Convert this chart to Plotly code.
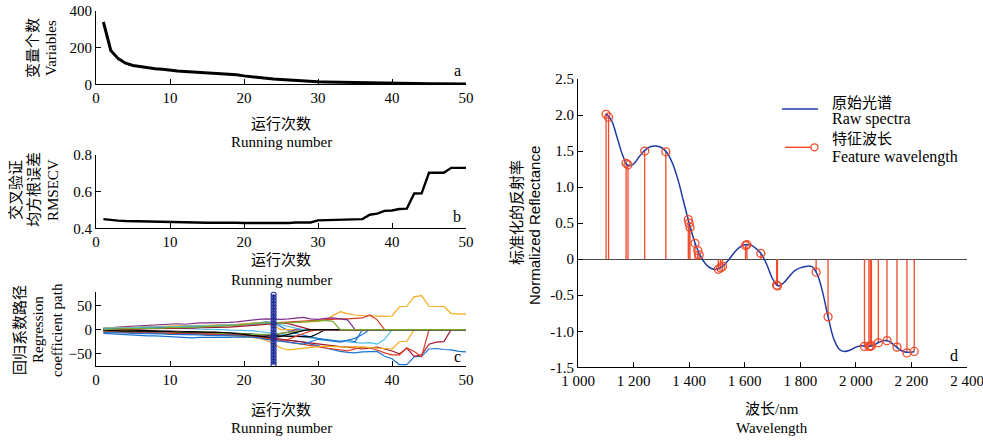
import plotly.graph_objects as go

W, H = 983, 441

# ---------------- data ----------------
runs = list(range(1, 51))

n_variables = [340, 185, 140, 115, 103, 96, 90, 85, 82, 76,
               72, 70, 68, 65, 62, 60, 59, 56, 52, 46,
               41, 37, 33, 29, 26, 23, 20, 18, 16, 14,
               13, 12, 11, 10, 9, 8, 7, 7, 6, 5,
               5, 4, 4, 4, 3, 3, 3, 2, 2, 2]

rmsecv = [0.450, 0.444, 0.442, 0.440, 0.439, 0.438, 0.438, 0.437, 0.436, 0.431,
          0.432, 0.433, 0.431, 0.430, 0.430, 0.430, 0.431, 0.431, 0.430, 0.429,
          0.429, 0.429, 0.428, 0.427, 0.428, 0.429, 0.432, 0.433, 0.432, 0.443,
          0.444, 0.444, 0.444, 0.444, 0.446, 0.450, 0.474, 0.480, 0.495, 0.497,
          0.505, 0.507, 0.590, 0.591, 0.703, 0.703, 0.703, 0.730, 0.730, 0.730]

# regression coefficient paths (one list per variable, runs 1..50)
coef_paths = [
    ("#f6a91a", [3, 3, 4, 4, 5, 5, 6, 6, 6, 7, 7, 7, 8, 8, 8, 9, 9, 10, 10, 11,
                 11, 12, 12, 13, 13, 14, 15, 16, 16, 17, 20, 28, 37, 33, 30, 29, 28, 27, 27, 28,
                 47, 48, 68, 70, 48, 47, 48, 33, 32, 32]),
    ("#e03a1e", [1, 1, 2, 2, 2, 3, 3, 3, 4, 4, 4, 5, 5, 6, 6, 7, 7, 8, 9, 10,
                 11, 12, 13, 14, 15, 16, 17, 18, 18, 19, 20, 21, 22, 22, 23, 24, 30, 20, 0, 0,
                 0, 0, 0, 0, 0, 0, 0, 0, 0, 0]),
    ("#7e2f8e", [2, 4, 5, 6, 7, 8, 8, 9, 10, 11, 12, 11, 13, 14, 14, 14, 15, 15, 16, 18,
                 19, 21, 22, 21, 21, 22, 23, 25, 22, 21, 23, 24, 22, 20, 0, 0, 0, 0, 0, 0,
                 0, 0, 0, 0, 0, 0, 0, 0, 0, 0]),
    ("#1a75d2", [-8, -9, -10, -11, -12, -12, -13, -13, -14, -14, -15, -17, -17, -16, -16, -17, -17, -16, -15, -16,
                 -15, -16, -17, -18, -20, -22, -24, -25, -30, -33, -38, -42, -45, -47, -48, -46, -46, -45, -55, -60,
                 -72, -72, -56, -55, -40, -39, -41, -42, -45, -46]),
    ("#a2142f", [-2, -3, -3, -4, -4, -5, -5, -6, -6, -7, -7, -8, -8, -9, -9, -10, -10, -11, -12, -13,
                 -14, -15, -16, -18, -20, -22, -24, -26, -28, -30, -32, -34, -35, -36, -38, -40, -38, -36, -40, -44,
                 -50, -38, -55, -52, -30, -26, -25, 0, 0, 0]),
    ("#e03a1e", [-1, -1, -2, -2, -3, -3, -4, -4, -4, -5, -5, -6, -6, -7, -7, -8, -8, -9, -10, -12,
                 -14, -16, -18, -20, -22, -26, -28, -30, -32, -35, -38, -40, -42, -44, -40, -36, -38, -42, -48, -52,
                 -52, -38, -45, -56, 0, 0, 0, 0, 0, 0]),
    ("#f6a91a", [-3, -4, -4, -5, -5, -6, -6, -7, -7, -8, -8, -9, -9, -10, -10, -11, -11, -12, -13, -14,
                 -16, -18, -22, -30, -38, -42, -40, -38, -36, -35, -34, -35, -36, -36, -35, -36, -38, -38, -40, -40,
                 -25, -24, 0, 0, 0, 0, 0, 0, 0, 0]),
    ("#4dbeee", [1, 1, 1, 2, 2, 2, 2, 3, 3, 3, 3, 2, 2, 1, 1, 0, 0, -1, -1, -2,
                 -2, -4, -6, -8, -10, -12, -14, -16, -18, -20, -22, -23, -24, -25, -26, -28, -27, -30, -20, 0,
                 0, 0, 0, 0, 0, 0, 0, 0, 0, 0]),
    ("#1a75d2", [2, 2, 3, 3, 3, 4, 4, 4, 5, 5, 5, 6, 6, 7, 7, 8, 8, 9, 10, 11,
                 12, 14, 16, 14, 6, -2, -8, -12, -15, -18, -20, -22, -24, -22, -25, 0, 0, 0, 0, 0,
                 0, 0, 0, 0, 0, 0, 0, 0, 0, 0]),
    ("#000000", [0, -1, -1, -1, -2, -2, -2, -3, -3, -3, -4, -4, -4, -5, -5, -5, -6, -6, -7, -8,
                 -9, -10, -11, -12, -13, -14, -14, -15, -15, -8, 0, 0, 0, 0, 0, 0, 0, 0, 0, 0,
                 0, 0, 0, 0, 0, 0, 0, 0, 0, 0]),
    ("#f6a91a", [4, 4, 5, 5, 5, 6, 6, 6, 7, 7, 7, 8, 8, 8, 9, 9, 10, 10, 11, 12,
                 13, 14, 12, 8, 0, 0, 0, 0, 0, 0, 0, 0, 0, 0, 0, 0, 0, 0, 0, 0,
                 0, 0, 0, 0, 0, 0, 0, 0, 0, 0]),
    ("#7e2f8e", [-4, -4, -5, -5, -6, -6, -6, -7, -7, -7, -8, -8, -9, -9, -9, -10, -10, -11, -11, -12,
                 -12, -13, -14, -12, -8, -5, 0, 0, 0, 0, 0, 0, 0, 0, 0, 0, 0, 0, 0, 0,
                 0, 0, 0, 0, 0, 0, 0, 0, 0, 0]),
    ("#77ac30", [-2, -2, -3, -3, -3, -4, -4, -4, -5, -5, -5, -6, -6, -6, -7, -7, -8, -8, -9, -9,
                 -10, -10, -11, -10, -8, -6, -4, -2, 0, 0, 0, 0, 0, 0, 0, 0, 0, 0, 0, 0,
                 0, 0, 0, 0, 0, 0, 0, 0, 0, 0]),
    ("#4dbeee", [3, 3, 4, 4, 4, 5, 5, 5, 6, 6, 6, 7, 7, 7, 8, 8, 9, 9, 10, 10,
                 11, 12, 12, 13, 10, 6, 3, 0, 0, 0, 0, 0, 0, 0, 0, 0, 0, 0, 0, 0,
                 0, 0, 0, 0, 0, 0, 0, 0, 0, 0]),
    ("#a2142f", [0, 0, 1, 1, 1, 1, 2, 2, 2, 2, 3, 3, 3, 4, 4, 4, 5, 5, 6, 7,
                 8, 9, 10, 12, 14, 12, 8, 4, 0, 0, 0, 0, 0, 0, 0, 0, 0, 0, 0, 0,
                 0, 0, 0, 0, 0, 0, 0, 0, 0, 0]),
    ("#e03a1e", [-5, -5, -6, -6, -7, -7, -7, -8, -8, -8, -9, -9, -10, -10, -10, -11, -11, -12, -12, -13,
                 -14, -15, -18, -22, -24, -20, -14, -8, -3, 0, 0, 0, 0, 0, 0, 0, 0, 0, 0, 0,
                 0, 0, 0, 0, 0, 0, 0, 0, 0, 0]),
    ("#1a75d2", [-6, -6, -7, -7, -8, -8, -8, -9, -9, -10, -10, -10, -11, -11, -12, -12, -12, -13, -13, -14,
                 -15, -17, -20, -22, -24, -26, -28, -30, -25, -20, -22, -24, -26, -22, -18, -10, 0, 0, 0, 0,
                 0, 0, 0, 0, 0, 0, 0, 0, 0, 0]),
    ("#000000", [-1, -2, -2, -3, -3, -3, -4, -4, -4, -4, -5, -5, -5, -6, -6, -6, -6, -7, -8, -10,
                 -12, -14, -15, -16, -14, -10, -6, -2, 0, 0, 0, 0, 0, 0, 0, 0, 0, 0, 0, 0,
                 0, 0, 0, 0, 0, 0, 0, 0, 0, 0]),
    ("#77ac30", [0, 1, 1, 2, 2, 2, 3, 3, 3, 4, 4, 5, 5, 5, 6, 6, 7, 8, 9, 10,
                 12, 14, 15, 15, 14, 14, 15, 16, 17, 18, 19, 17, 0, 0, 0, 0, 0, 0, 0, 0,
                 0, 0, 0, 0, 0, 0, 0, 0, 0, 0]),
]

optimal_run = 24
optimal_marker_y = [-72, -66, -60, -54, -48, -42, -36, -30, -24, -18, -12, -6, 0,
                    6, 12, 18, 24, 30, 36, 42, 48, 54, 60, 66, 72]

wavelength = [1100, 1120, 1140, 1160, 1180, 1200, 1220, 1240, 1260, 1280,
              1300, 1320, 1340, 1360, 1380, 1400, 1420, 1440, 1460, 1480,
              1500, 1520, 1540, 1560, 1580, 1600, 1620, 1640, 1660, 1680,
              1700, 1720, 1740, 1760, 1780, 1800, 1820, 1840, 1860, 1880,
              1900, 1920, 1940, 1960, 1980, 2000, 2020, 2040, 2060, 2080,
              2100, 2120, 2140, 2160, 2180, 2200, 2210]
raw_spectra = [2.02, 1.93, 1.70, 1.45, 1.30, 1.32, 1.42, 1.51, 1.56, 1.57,
               1.55, 1.48, 1.33, 1.10, 0.80, 0.50, 0.24, 0.05, -0.07, -0.13,
               -0.14, -0.10, -0.02, 0.08, 0.16, 0.20, 0.20, 0.15, 0.07, -0.08,
               -0.27, -0.37, -0.33, -0.24, -0.16, -0.12, -0.10, -0.10, -0.20, -0.45,
               -0.80, -1.10, -1.25, -1.28, -1.26, -1.22, -1.20, -1.21, -1.20, -1.16,
               -1.13, -1.14, -1.20, -1.26, -1.29, -1.29, -1.28]

feature_wl = [1101, 1110, 1173, 1180, 1240, 1316, 1397, 1400, 1403, 1421, 1431, 1436,
              1505, 1513, 1520, 1603, 1608, 1658, 1715, 1718, 1857, 1900,
              2031, 2047, 2052, 2056, 2081, 2112, 2148, 2184, 2210]
feature_val = [2.01, 1.97, 1.33, 1.31, 1.50, 1.49, 0.55, 0.50, 0.44, 0.22, 0.12, 0.06,
               -0.14, -0.12, -0.10, 0.19, 0.20, 0.08, -0.36, -0.37, -0.18, -0.80,
               -1.21, -1.21, -1.21, -1.20, -1.16, -1.13, -1.22, -1.30, -1.28]

x_ticks_d = [1000, 1200, 1400, 1600, 1800, 2000, 2200, 2400]
x_ticktext_d = ["1 000", "1 200", "1 400", "1 600", "1 800", "2 000", "2 200", "2 400"]
y_ticks_d = [-1.5, -1.0, -0.5, 0, 0.5, 1.0, 1.5, 2.0, 2.5]
y_ticktext_d = ["-1.5", "-1.0", "-0.5", "0", "0.5", "1.0", "1.5", "2.0", "2.5"]

# ---------------- styling helpers ----------------
SERIF = "Liberation Serif, Times New Roman, Noto Sans CJK SC"
CJK = "Noto Sans CJK SC, Liberation Serif"
SANS = "Liberation Sans, Arial"
RED = "#f24a2a"
SPEC_BLUE = "#1e3aa6"


def px(x):
    return x / W


def py(y):
    return 1 - y / H


fig = go.Figure()

# panel a
fig.add_trace(go.Scatter(x=runs, y=n_variables, mode="lines", xaxis="x", yaxis="y",
                         line=dict(color="black", width=3), showlegend=False))
# panel b
fig.add_trace(go.Scatter(x=runs, y=rmsecv, mode="lines", xaxis="x2", yaxis="y2",
                         line=dict(color="black", width=2.4), showlegend=False))
# panel c
for color, vals in coef_paths:
    fig.add_trace(go.Scatter(x=runs, y=vals, mode="lines", xaxis="x3", yaxis="y3",
                             line=dict(color=color, width=1.2), showlegend=False))
fig.add_trace(go.Scatter(x=[optimal_run] * len(optimal_marker_y), y=optimal_marker_y,
                         mode="lines+markers", xaxis="x3", yaxis="y3",
                         line=dict(color="#1f2f9a", width=1.5),
                         marker=dict(symbol="circle-open", size=5, color="#1f2f9a",
                                     line=dict(width=1.2, color="#1f2f9a")),
                         showlegend=False))

# panel d : stems
stem_x, stem_y = [], []
for w, v in zip(feature_wl, feature_val):
    stem_x += [w, w, None]
    stem_y += [0, v, None]
fig.add_trace(go.Scatter(x=stem_x, y=stem_y, mode="lines", xaxis="x4", yaxis="y4",
                         line=dict(color=RED, width=1.3), showlegend=False))
fig.add_trace(go.Scatter(x=wavelength, y=raw_spectra, mode="lines", xaxis="x4", yaxis="y4",
                         line=dict(color=SPEC_BLUE, width=1.5, shape="spline", smoothing=1.0),
                         showlegend=False))
fig.add_trace(go.Scatter(x=feature_wl, y=feature_val, mode="markers", xaxis="x4", yaxis="y4",
                         marker=dict(symbol="circle-open", size=8, color=RED,
                                     line=dict(width=1.3, color=RED)),
                         showlegend=False))

axis_common = dict(showline=True, linecolor="black", linewidth=1.2, ticks="inside",
                   ticklen=5, tickwidth=1.2, tickcolor="black", showgrid=False,
                   zeroline=False, automargin=False, ticklabeloverflow="allow",
                   tickfont=dict(family=SERIF, size=15, color="black"))

xdom_left = [px(96), px(466)]
fig.update_layout(
    width=W, height=H, margin=dict(l=0, r=0, t=0, b=0, pad=0, autoexpand=False),
    paper_bgcolor="white", plot_bgcolor="white", showlegend=False,
    xaxis=dict(domain=xdom_left, anchor="y", range=[0, 50], tickvals=[0, 10, 20, 30, 40, 50], **axis_common),
    yaxis=dict(domain=[py(84.3), py(11)], anchor="x", range=[0, 400], tickvals=[0, 200, 400], **axis_common),
    xaxis2=dict(domain=xdom_left, anchor="y2", range=[0, 50], tickvals=[0, 10, 20, 30, 40, 50], **axis_common),
    yaxis2=dict(domain=[py(228.3), py(155)], anchor="x2", range=[0.4, 0.8], tickvals=[0.4, 0.6, 0.8],
                tickformat=".1f", **axis_common),
    xaxis3=dict(domain=xdom_left, anchor="y3", range=[0, 50], tickvals=[0, 10, 20, 30, 40, 50], **axis_common),
    yaxis3=dict(domain=[py(366), py(291.7)], anchor="x3", range=[-75, 78], tickvals=[-50, 0, 50], **axis_common),
    xaxis4=dict(domain=[px(578), px(967)], anchor="y4", range=[1000, 2400], tickvals=x_ticks_d,
                ticktext=x_ticktext_d, **axis_common),
    yaxis4=dict(domain=[py(367.3), py(79)], anchor="x4", range=[-1.5, 2.5], tickvals=y_ticks_d,
                ticktext=y_ticktext_d, **axis_common),
)
fig.update_layout(yaxis4=dict(zeroline=True, zerolinecolor="#4a4a4a", zerolinewidth=1.3))

ann = []


def text(x, y, s, family=SERIF, size=15, angle=0, xanchor="center"):
    ann.append(dict(x=px(x), y=py(y), xref="paper", yref="paper", text=s, showarrow=False,
                    xanchor=xanchor, yanchor="middle", textangle=angle,
                    font=dict(family=family, size=size, color="black")))


# axis titles
for yc, yr in [(123, 142), (258, 280), (408, 428)]:
    text(281, yc, "运行次数", family=CJK, size=15)
    text(281, yr, "Running number", size=15)
text(31, 48, "变量个数", family=CJK, size=15, angle=-90)
text(51, 48, "Variables", size=15, angle=-90)
text(15, 190, "交叉验证", family=CJK, size=15, angle=-90)
text(33, 190, "均方根误差", family=CJK, size=15, angle=-90)
text(53, 190, "RMSECV", size=15, angle=-90)
text(18, 330, "回归系数路径", family=CJK, size=15, angle=-90)
text(38, 330, "Regression", size=15, angle=-90)
text(57, 330, "coefficient path", size=15, angle=-90)
text(772, 409, "波长/nm", family=SERIF, size=15)
text(772, 428, "Wavelength", size=15)
text(515, 213, "标准化的反射率", family=CJK, size=15, angle=-90)
text(534, 226, "Normalized Reflectance", family=SANS, size=15, angle=-90)

# panel letters
text(457, 70, "a", size=16)
text(457, 216, "b", size=16)
text(457, 356, "c", size=16)
text(954, 355, "d", size=16)

# legend for panel d
text(830, 101, "原始光谱", family=CJK, size=15, xanchor="left")
text(830, 119, "Raw spectra", size=16, xanchor="left")
text(830, 137, "特征波长", family=CJK, size=15, xanchor="left")
text(830, 157, "Feature wavelength", size=16, xanchor="left")

shapes = [
    dict(type="line", xref="paper", yref="paper", x0=px(782), x1=px(818), y0=py(109), y1=py(109),
         line=dict(color=SPEC_BLUE, width=1.6)),
    dict(type="line", xref="paper", yref="paper", x0=px(785), x1=px(811), y0=py(147.3), y1=py(147.3),
         line=dict(color=RED, width=1.4)),
    dict(type="circle", xref="paper", yref="paper", x0=px(811), x1=px(818), y0=py(150.8), y1=py(143.8),
         line=dict(color=RED, width=1.3)),
]

fig.update_layout(annotations=ann, shapes=shapes)
fig.write_html("out.html")
